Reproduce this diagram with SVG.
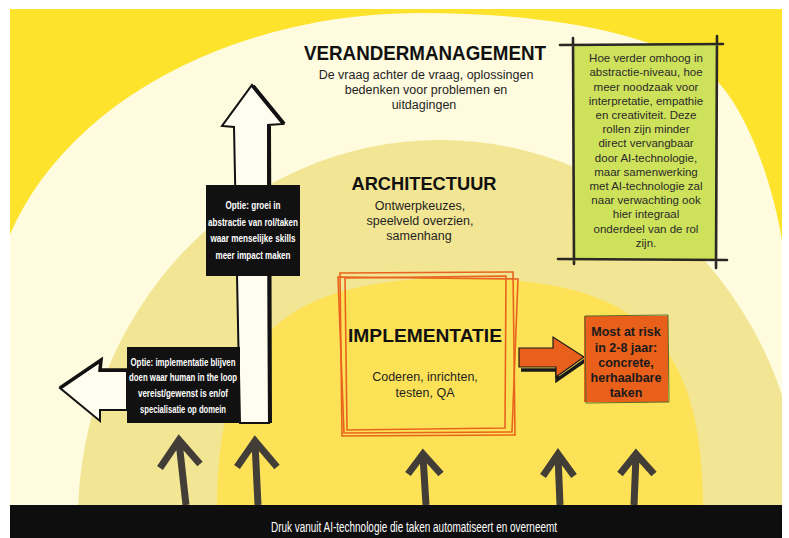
<svg xmlns="http://www.w3.org/2000/svg" width="789" height="538" viewBox="0 0 789 538">
<defs>
<clipPath id="frame"><rect x="10" y="9" width="772" height="496"/></clipPath>
<style>
.t{font-family:"Liberation Sans",Arial,sans-serif;fill:#1f1f1f;text-anchor:middle}
.h{font-weight:bold;fill:#111}
.s{font-size:12.5px}
.g{font-size:11.5px;fill:#2a2a2a}
.w{fill:#fff;font-weight:bold;font-size:10px}
.r{font-weight:bold;font-size:12.5px;fill:#1a1a1a}
.pa{fill:none;stroke:#423e37;stroke-width:7;stroke-linejoin:miter}
.sk{fill:none;stroke:#2b2824;stroke-width:2.6;stroke-linecap:round}
.or{fill:none;stroke:#E8641E;stroke-width:1.6}
</style>
</defs>
<rect width="789" height="538" fill="#ffffff"/>
<g id="background" clip-path="url(#frame)">
<rect x="10" y="9" width="772" height="496" fill="#FDE32B"/>
<path d="M-10,505 L-10,330 A430,317 0 0 1 420,13 C540,13 640,30 700,66 C740,92 770,170 782,240 L800,250 L800,505 Z" fill="#FEFBDE"/>
<path d="M78,520 A362,380 0 0 1 440,140 A362,380 0 0 1 802,520 Z" fill="#F2E593"/>
<path d="M217,510 C217,340 280,278 460,278 C640,278 703,340 703,510 Z" fill="#FDE257"/>
</g>
<g id="connectors">
<g id="pressure-arrows">
<path class="pa" d="M186,505 L179,442 M160,468 L179,440 L200,464"/>
<path class="pa" d="M258,505 L255,443 M237,467 L255,441 L277,467"/>
<path class="pa" d="M426,505 L423,456 M408,474 L423,454 L441,474"/>
<path class="pa" d="M560,505 L558,456 M543,476 L558,454 L574,476"/>
<path class="pa" d="M634,505 L636,456 M620,474 L636,454 L654,474"/>
</g>
<g id="up-arrow">
<path d="M240,423 L234,127 L222,126 L252,85 L283,124 L268,125 L269,423 Z" fill="#FFFDF0" stroke="#111" stroke-width="2"/>
<path d="M253,86 L284,124 M269,126 L270,423" fill="none" stroke="#111" stroke-width="4"/>
</g>
<g id="left-arrow">
<path d="M127,371 L100,371 L101,361 L60,388 L100,421 L100,410 L127,410 Z" fill="#FFFDF0" stroke="#111" stroke-width="2"/>
<path d="M127,370 L100,370 L101,360 L60,388" fill="none" stroke="#111" stroke-width="3.5"/>
</g>
<g id="risk-arrow">
<path d="M521,370 L557,370 L557,380 L587,359" fill="none" stroke="#1a1a1a" stroke-width="3.5"/>
<path d="M519,348 L553,348 L553,337 L584,357 L556,377 L556,367 L519,367 Z" fill="#E8601C" stroke="#1a1a1a" stroke-width="1.2"/>
</g>
</g>
<g id="verandermanagement">
<text class="t h" x="425" y="60" font-size="19.5" textLength="242" lengthAdjust="spacingAndGlyphs">VERANDERMANAGEMENT</text>
<text class="t s" x="426" y="79">De vraag achter de vraag, oplossingen</text>
<text class="t s" x="426" y="94">bedenken voor problemen en</text>
<text class="t s" x="424" y="109">uitdagingen</text>
</g>
<g id="architectuur">
<text class="t h" x="424" y="190" font-size="18.5" textLength="145" lengthAdjust="spacingAndGlyphs">ARCHITECTUUR</text>
<text class="t s" x="420" y="210">Ontwerpkeuzes,</text>
<text class="t s" x="420" y="225">speelveld overzien,</text>
<text class="t s" x="419" y="240">samenhang</text>
</g>
<g id="implementatie">
<path class="or" d="M340,273 L513,272 L515,435 L342,436 Z"/>
<path class="or" d="M345,278 L506,276 L505,428 L347,430 Z"/>
<path class="or" d="M338,277 L518,279 L512,432 L344,433 Z"/>
<text class="t h" x="425" y="342" font-size="19" textLength="154" lengthAdjust="spacingAndGlyphs">IMPLEMENTATIE</text>
<text class="t s" x="425" y="381">Coderen, inrichten,</text>
<text class="t s" x="425" y="397">testen, QA</text>
</g>
<g id="most-at-risk">
<rect x="584" y="316" width="84" height="86" fill="#E8601A"/>
<path d="M585,316 L668,315 L669,402 L586,403 Z" fill="none" stroke="#5a6a2a" stroke-width="1"/>
<text class="t r" x="626" y="336">Most at risk</text>
<text class="t r" x="626" y="352">in 2-8 jaar:</text>
<text class="t r" x="626" y="367">concrete,</text>
<text class="t r" x="626" y="382">herhaalbare</text>
<text class="t r" x="626" y="397">taken</text>
</g>
<g id="note-box">
<rect x="574" y="45" width="143" height="215" fill="#CEE15B"/>
<path class="sk" d="M560,45 L723,44 M573,38 L574,264 M717,36 L716,268 M558,259 L727,260"/>
<text class="t g" x="646" y="62">Hoe verder omhoog in</text>
<text class="t g" x="646" y="76">abstractie-niveau, hoe</text>
<text class="t g" x="646" y="90.5">meer noodzaak voor</text>
<text class="t g" x="646" y="104.5">interpretatie, empathie</text>
<text class="t g" x="646" y="119">en creativiteit. Deze</text>
<text class="t g" x="646" y="133">rollen zijn minder</text>
<text class="t g" x="646" y="147">direct vervangbaar</text>
<text class="t g" x="646" y="161.5">door AI-technologie,</text>
<text class="t g" x="646" y="175.5">maar samenwerking</text>
<text class="t g" x="646" y="190">met AI-technologie zal</text>
<text class="t g" x="646" y="204">naar verwachting ook</text>
<text class="t g" x="646" y="218">hier integraal</text>
<text class="t g" x="646" y="232.5">onderdeel van de rol</text>
<text class="t g" x="646" y="246.5">zijn.</text>
</g>
<g id="option-grow">
<rect x="206" y="185" width="94" height="91" fill="#111"/>
<text class="t w" x="253" y="209" textLength="55" lengthAdjust="spacingAndGlyphs">Optie: groei in</text>
<text class="t w" x="253" y="226" textLength="90" lengthAdjust="spacingAndGlyphs">abstractie van rol/taken</text>
<text class="t w" x="253" y="242" textLength="85" lengthAdjust="spacingAndGlyphs">waar menselijke skills</text>
<text class="t w" x="253" y="259" textLength="75" lengthAdjust="spacingAndGlyphs">meer impact maken</text>
</g>
<g id="option-stay">
<rect x="127" y="347" width="113" height="76" fill="#111"/>
<text class="t w" x="183" y="366" textLength="105" lengthAdjust="spacingAndGlyphs">Optie: implementatie blijven</text>
<text class="t w" x="183" y="381" textLength="108" lengthAdjust="spacingAndGlyphs">doen waar human in the loop</text>
<text class="t w" x="183" y="397" textLength="90" lengthAdjust="spacingAndGlyphs">vereist/gewenst is en/of</text>
<text class="t w" x="183" y="413" textLength="86" lengthAdjust="spacingAndGlyphs">specialisatie op domein</text>
</g>
<g id="bottom-bar">
<rect x="10" y="505" width="772" height="33" fill="#0e0e0e"/>
<text class="t" x="414" y="532" font-size="14" style="fill:#fff" textLength="286" lengthAdjust="spacingAndGlyphs">Druk vanuit AI-technologie die taken automatiseert en overneemt</text>
</g>
</svg>
